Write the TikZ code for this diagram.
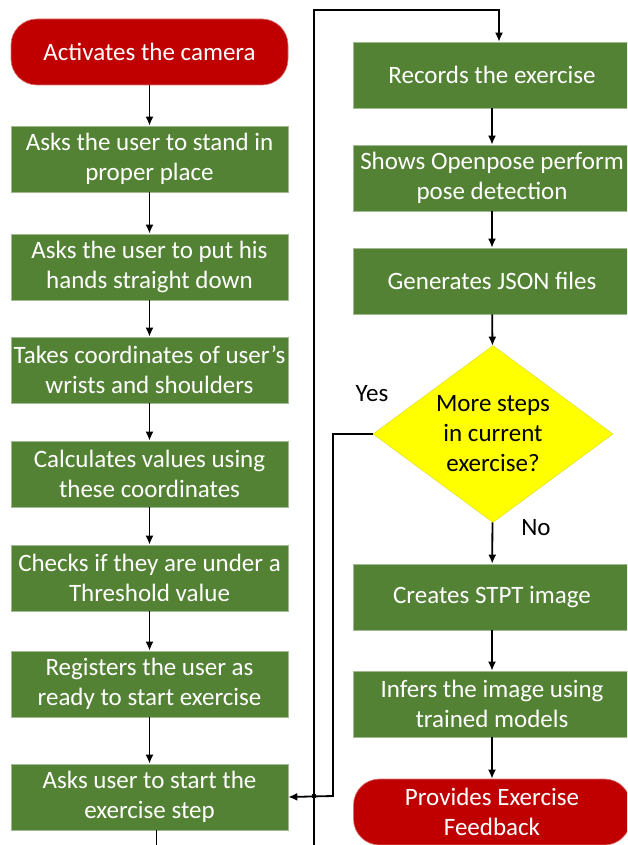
\documentclass[tikz,border=0pt]{standalone}
\usepackage{fontspec}
\setmainfont{Carlito}
\usetikzlibrary{shapes.geometric,arrows.meta}

\definecolor{verde}{HTML}{548235}
\definecolor{rosso}{HTML}{C00000}
\definecolor{giallo}{HTML}{FFFF00}

\tikzstyle{passo} = [rectangle, minimum width=277pt, minimum height=66pt, inner sep=0pt, align=center, draw=verde!55!white, line width=0.6pt, fill=verde, text=white, font=\fontsize{25}{30}\selectfont]
\tikzstyle{estremo} = [passo, rounded corners=26pt, fill=rosso, draw=rosso!55!white]
\tikzstyle{scelta} = [diamond, aspect=1.356, minimum width=240pt, minimum height=177pt, inner sep=0pt, align=center, draw=giallo!70!gray, line width=0.4pt, fill=giallo, font=\fontsize{25}{30}\selectfont]
\tikzstyle{freccia} = [draw=black, line width=1.8pt, -{Latex[length=9pt,width=8pt]}]

\begin{document}
\begin{tikzpicture}[x=1pt,y=-1pt]

    \useasboundingbox (0,0) rectangle (627,845);
    \clip (0,0) rectangle (627,845);

    % Colonna sinistra
    \node[estremo] (camera) at (149.5,52) {Activates the camera};
    \node[passo] (posto) at (149.5,159) {Asks the user to stand in\\proper place};
    \node[passo] (mani) at (149.5,267) {Asks the user to put his\\hands straight down};
    \node[passo] (coord) at (149.5,370) {Takes coordinates of user’s\\wrists and shoulders};
    \node[passo] (calcola) at (149.5,474) {Calculates values using\\these coordinates};
    \node[passo] (soglia) at (149.5,578) {Checks if they are under a\\Threshold value};
    \node[passo] (pronto) at (149.5,684) {Registers the user as\\ready to start exercise};
    \node[passo] (avvio) at (149.5,797) {Asks user to start the\\exercise step};

    % Colonna destra
    \node[passo] (registra) at (492,75) {Records the exercise};
    \node[passo] (mostra) at (492,178) {Shows Openpose perform\\pose detection};
    \node[passo] (genera) at (492,281) {Generates JSON files};
    \node[scelta] (scelta) at (493,434) {More steps\\in current\\exercise?};
    \node[passo] (crea) at (492,597) {Creates STPT image};
    \node[passo] (inferisce) at (492,704) {Infers the image using\\trained models};
    \node[estremo] (feedback) at (492,812) {Provides Exercise\\Feedback};

    % Etichette
    \node[font=\fontsize{25}{30}\selectfont] (si) at (372,394) {Yes};
    \node[font=\fontsize{25}{30}\selectfont] (no) at (536,528) {No};

    % Frecce
    \draw[freccia] (camera) -- (posto);
    \draw[freccia] (posto) -- (mani);
    \draw[freccia] (mani) -- (coord);
    \draw[freccia] (coord) -- (calcola);
    \draw[freccia] (calcola) -- (soglia);
    \draw[freccia] (soglia) -- (pronto);
    \draw[freccia] (pronto) -- (avvio);

    \draw[freccia] (registra) -- (mostra);
    \draw[freccia] (mostra) -- (genera);
    \draw[freccia] (genera) -- (scelta);
    \draw[freccia] (scelta) -- (crea);
    \draw[freccia] (crea) -- (inferisce);
    \draw[freccia] (inferisce) -- (feedback);

    % Ciclo
    \coordinate (giu) at (314,870);
    \coordinate (su) at (314,10);
    \coordinate (ritorno) at (333,796);
    \draw[freccia] ([xshift=7pt]avvio.south) |- (giu) -- (su) -| ([xshift=7pt]registra.north);
    \draw[freccia] (scelta.west) -| (ritorno) -- (avvio.east);
    \fill (314,796) circle (2.4pt);

\end{tikzpicture}
\end{document}
